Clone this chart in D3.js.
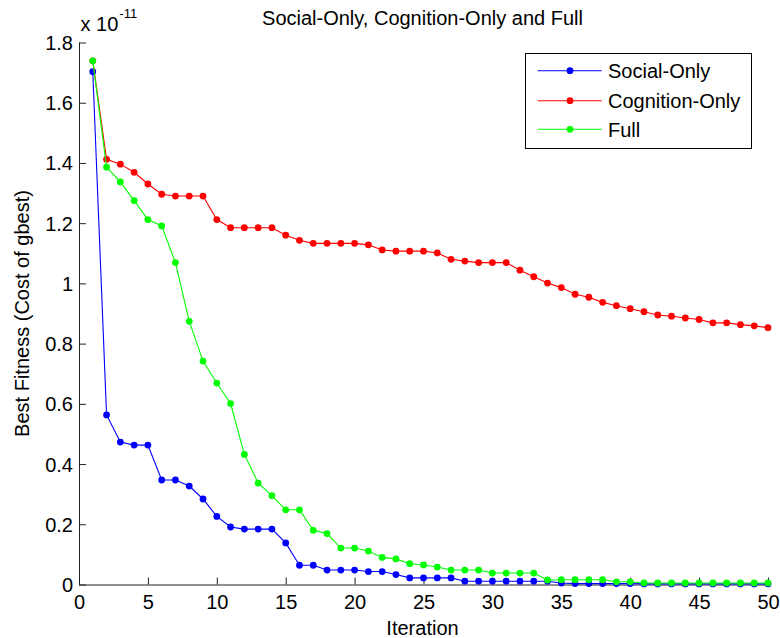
<!DOCTYPE html>
<html>
<head>
<meta charset="utf-8">
<script src="https://cdn.jsdelivr.net/npm/d3@7"></script>
<style>
  html, body { margin: 0; padding: 0; background: #fff; }
  svg { display: block; font-family: "Liberation Sans", Arial, sans-serif; }
</style>
</head>
<body>
<svg id="chart" width="780" height="638"></svg>
<script>
// Best fitness per iteration (units of 1e-11)
const iterations = d3.range(1, 51);

const socialOnly = [
  1.703, 0.563, 0.473, 0.463, 0.463, 0.347, 0.347, 0.327, 0.284, 0.226,
  0.191, 0.184, 0.184, 0.184, 0.138, 0.064, 0.064, 0.048, 0.048, 0.048,
  0.043, 0.043, 0.033, 0.022, 0.022, 0.022, 0.022, 0.011, 0.011, 0.011,
  0.011, 0.011, 0.011, 0.011, 0.005, 0.003, 0.003, 0.003, 0.003, 0.003,
  0.002, 0.002, 0.002, 0.002, 0.002, 0.002, 0.002, 0.002, 0.002, 0.002
];

const cognitionOnly = [
  1.739, 1.412, 1.396, 1.369, 1.330, 1.296, 1.290, 1.290, 1.290, 1.212,
  1.185, 1.185, 1.185, 1.185, 1.160, 1.143, 1.133, 1.133, 1.133, 1.133,
  1.128, 1.111, 1.107, 1.107, 1.107, 1.101, 1.080, 1.074, 1.069, 1.069,
  1.069, 1.044, 1.022, 1.001, 0.986, 0.964, 0.954, 0.937, 0.926, 0.916,
  0.906, 0.895, 0.891, 0.885, 0.880, 0.869, 0.869, 0.863, 0.859, 0.853
];

const full = [
  1.739, 1.386, 1.337, 1.275, 1.212, 1.191, 1.069, 0.874, 0.742, 0.669,
  0.601, 0.432, 0.337, 0.295, 0.248, 0.248, 0.180, 0.169, 0.121, 0.121,
  0.111, 0.090, 0.085, 0.069, 0.065, 0.058, 0.048, 0.048, 0.048, 0.038,
  0.038, 0.038, 0.038, 0.015, 0.016, 0.016, 0.016, 0.016, 0.009, 0.009,
  0.005, 0.005, 0.005, 0.005, 0.005, 0.005, 0.005, 0.005, 0.005, 0.005
];

const seriesNames = ["Social-Only", "Cognition-Only", "Full"];
const seriesColors = ["#0000ff", "#ff0000", "#00ff00"];
const seriesValues = [socialOnly, cognitionOnly, full];

const xTicks = [0, 5, 10, 15, 20, 25, 30, 35, 40, 45, 50];
const yTicks = [0, 0.2, 0.4, 0.6, 0.8, 1, 1.2, 1.4, 1.6, 1.8];

const svg = d3.select("#chart");
const plotLeft = 79, plotRight = 768, plotTop = 42.5, plotBottom = 584.5;

const x = d3.scaleLinear().domain([0, 50]).range([plotLeft, plotRight]);
const y = d3.scaleLinear().domain([0, 1.8]).range([plotBottom, plotTop]);

const fontSize = 20;

// axes with inward ticks
const xAxis = d3.axisBottom(x).tickValues(xTicks).tickSize(-7).tickPadding(10).tickFormat(d3.format("d"));
const yAxis = d3.axisLeft(y).tickValues(yTicks).tickSize(-7).tickPadding(6).tickFormat(d => d3.format("~g")(d));

const gx = svg.append("g").attr("transform", `translate(0,${plotBottom})`).call(xAxis);
const gy = svg.append("g").attr("transform", `translate(${plotLeft},0)`).call(yAxis);

[gx, gy].forEach(g => {
  g.select(".domain").attr("stroke", "#222").attr("stroke-width", 1);
  g.selectAll(".tick line").attr("stroke", "#222").attr("stroke-width", 1);
  g.selectAll(".tick text")
    .attr("fill", "#000")
    .attr("font-size", fontSize)
    .attr("font-family", "Liberation Sans, Arial, sans-serif");
});
gx.select(".domain").attr("d", `M${plotLeft},0.5H${plotRight}`);
gy.select(".domain").attr("d", `M0.5,${plotBottom}V${plotTop}`);
gy.selectAll(".tick text").attr("dy", "0.35em");

// exponent label
const expo = svg.append("text")
  .attr("x", 80.5).attr("y", 30.5)
  .attr("font-size", fontSize).attr("fill", "#000");
expo.append("tspan").text("x 10");
expo.append("tspan").attr("font-size", 13).attr("dy", -12.5).attr("dx", 1).text("-11");

// lines and markers
const line = d3.line()
  .x((d, i) => x(iterations[i]))
  .y(d => y(d));

seriesValues.forEach((vals, s) => {
  const g = svg.append("g");
  g.append("path")
    .datum(vals)
    .attr("fill", "none")
    .attr("stroke", seriesColors[s])
    .attr("stroke-width", 1.1)
    .attr("d", line);
  g.selectAll("circle")
    .data(vals)
    .join("circle")
    .attr("cx", (d, i) => x(iterations[i]))
    .attr("cy", d => y(d))
    .attr("r", 3.4)
    .attr("fill", seriesColors[s]);
});

// title and axis labels
svg.append("text")
  .attr("x", 422.5).attr("y", 25)
  .attr("text-anchor", "middle")
  .attr("font-size", fontSize).attr("fill", "#000")
  .text("Social-Only, Cognition-Only and Full");

svg.append("text")
  .attr("x", 422.5).attr("y", 635)
  .attr("text-anchor", "middle")
  .attr("font-size", fontSize).attr("fill", "#000")
  .text("Iteration");

svg.append("text")
  .attr("transform", `translate(28.5,${(plotTop + plotBottom) / 2}) rotate(-90)`)
  .attr("text-anchor", "middle")
  .attr("font-size", fontSize).attr("fill", "#000")
  .text("Best Fitness (Cost of gbest)");

// legend
const legend = svg.append("g");
legend.append("rect")
  .attr("x", 525.5).attr("y", 53.5)
  .attr("width", 226).attr("height", 95)
  .attr("fill", "#fff")
  .attr("stroke", "#000").attr("stroke-width", 1);

const rowY = [70.7, 100.7, 129.3];
seriesNames.forEach((name, s) => {
  const ry = rowY[s];
  legend.append("line")
    .attr("x1", 537.7).attr("x2", 601.7)
    .attr("y1", ry).attr("y2", ry)
    .attr("stroke", seriesColors[s]).attr("stroke-width", 1.1);
  legend.append("circle")
    .attr("cx", 570).attr("cy", ry).attr("r", 3.4)
    .attr("fill", seriesColors[s]);
  legend.append("text")
    .attr("x", 608).attr("y", ry + 7.5)
    .attr("font-size", fontSize).attr("fill", "#000")
    .text(name);
});
</script>
</body>
</html>
